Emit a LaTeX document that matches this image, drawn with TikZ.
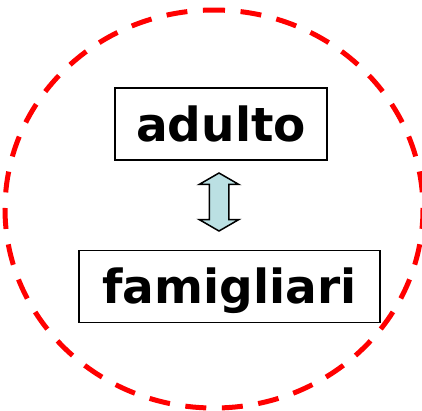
\documentclass[tikz,border=0pt]{standalone}
\usepackage{fontspec}
\setmainfont{DejaVu Sans}
\usetikzlibrary{shapes.arrows}
\definecolor{celeste}{RGB}{187,224,227}
\definecolor{rosso}{RGB}{255,0,0}

\begin{document}
\begin{tikzpicture}[x = 1pt, y = -1pt, node distance = 162.5pt]
        \tikzstyle{box}=[draw, line width = 1.5pt, inner sep = 0pt, text height = 53pt, text depth = 19pt, font = \fontsize{47}{56}\selectfont\bfseries]
        \tikzstyle{link}=[double arrow, draw, line width = 1.5pt, fill = celeste, rotate = 90, minimum height = 58pt, minimum width = 38pt, double arrow head extend = 10pt, double arrow tip angle = 120, inner xsep = 0pt, inner ysep = 9pt]

        \useasboundingbox (0,0) rectangle (422,410);

        % dashed red border round the pair, starting from the top
        \draw[rosso, line width = 5pt, dash pattern = on 21pt off 15.6pt, dash phase = 10pt]
            (214,10) arc [start angle = -90, end angle = 270, x radius = 209, y radius = 199];

        \node (a) [box, minimum width = 212pt] at (221,124) {adulto};
        \node (f) [box, minimum width = 301pt, below of = a, xshift = 8.5pt] {famigliari};
        \node (l) [link] at (219,202) {};
    \end{tikzpicture}
\end{document}
